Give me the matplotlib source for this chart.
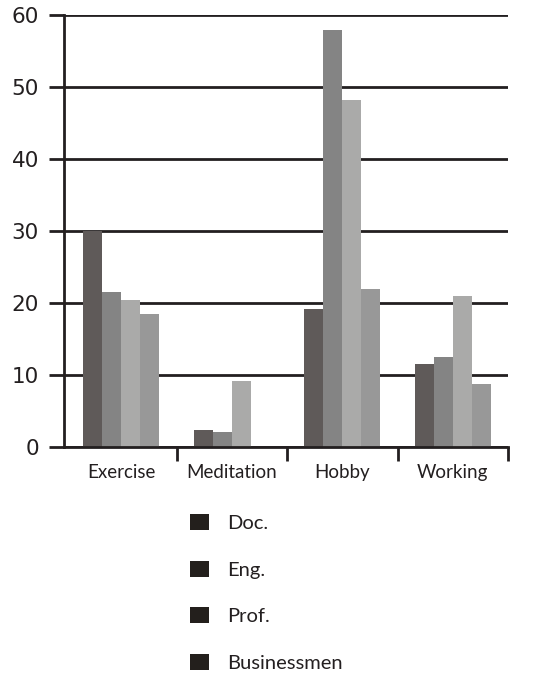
import matplotlib
matplotlib.use("Agg")
import matplotlib.pyplot as plt
from matplotlib.patches import Patch
import numpy as np

categories = ["Exercise", "Meditation", "Hobby", "Working"]
series = ["Doc.", "Eng.", "Prof.", "Businessmen"]
doc = [30.0, 2.4, 19.2, 11.5]
eng = [21.5, 2.1, 57.9, 12.5]
prof = [20.4, 9.2, 48.2, 21.0]
businessmen = [18.5, 0.0, 21.9, 8.8]
yticks = [0, 10, 20, 30, 40, 50, 60]

values = [doc, eng, prof, businessmen]
colors = ["#5f5a59", "#848484", "#aaaaa9", "#989898"]
line_color = "#231f20"

fig = plt.figure(figsize=(5.39, 6.77), dpi=100)
W, H = 539, 677
ax = fig.add_axes([64 / W, 1 - 447 / H, (508 - 64) / W, (447 - 15) / H])

x = np.arange(len(categories))
bw = 0.172
for i, (vals, c) in enumerate(zip(values, colors)):
    ax.bar(x + (i - 1.5) * bw, vals, width=bw, color=c, zorder=1, linewidth=0)

ax.set_ylim(0, 60)
ax.set_xlim(-0.52, 3.5)
ax.set_yticks(yticks)
ax.set_yticklabels([str(t) for t in yticks], fontsize=15.5, family="DejaVu Sans", color="#231f20")
ax.tick_params(axis="y", direction="out", length=11, width=2, color=line_color, pad=7)
ax.yaxis.grid(True, color=line_color, linewidth=2, zorder=0)
ax.set_axisbelow(True)

ax.set_xticks(x)
ax.set_xticklabels(categories, fontsize=13.5, family="Lato", color="#231f20")
ax.tick_params(axis="x", which="major", length=0, pad=12)
ax.set_xticks([0.5, 1.5, 2.5, 3.5], minor=True)
ax.tick_params(axis="x", which="minor", direction="out", length=10, width=2, color=line_color)

for s in ["top", "right"]:
    ax.spines[s].set_visible(False)
ax.spines["left"].set_color(line_color)
ax.spines["left"].set_linewidth(2)
ax.spines["bottom"].set_color(line_color)
ax.spines["bottom"].set_linewidth(2)

handles = [Patch(facecolor="#231f1c", edgecolor="none") for _ in series]
leg = fig.legend(handles, series, loc="upper left", bbox_to_anchor=(172 / W, 1 - 496 / H),
                 frameon=False, labelspacing=1.42, handlelength=0.95,
                 handleheight=0.85, handletextpad=0.9, prop={"family": "Lato", "size": 14.5})
for t in leg.get_texts():
    t.set_color("#231f20")

fig.savefig("out.png", dpi=100)
